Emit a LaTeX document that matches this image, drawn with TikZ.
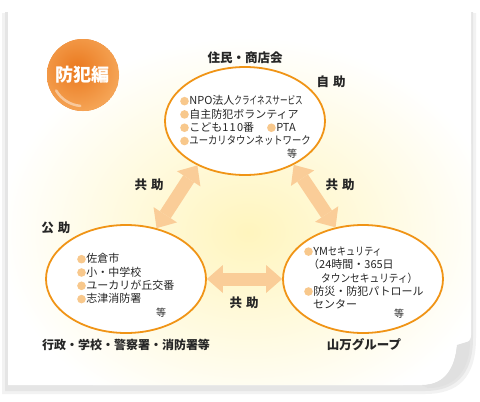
\documentclass[tikz,border=0pt]{standalone}
\usepackage{fontspec}
\usepackage{graphicx}
\setmainfont{Noto Sans CJK JP}
\usetikzlibrary{arrows.meta, positioning, shapes.geometric}
\definecolor{rimorange}{RGB}{240,148,22}
\definecolor{dotorange}{RGB}{248,200,140}
\definecolor{arrowpeach}{RGB}{250,205,152}
\definecolor{glowyellow}{RGB}{255,245,190}
\definecolor{ballorange}{RGB}{234,120,30}
\definecolor{balllight}{RGB}{246,168,90}
\definecolor{foldgray}{RGB}{224,224,224}
\definecolor{inkgray}{RGB}{38,38,38}

\newcommand{\dotb}{\tikz[baseline=-3.8pt]\fill[dotorange] (0,0) circle (4.3pt);\hspace{0.6pt}}
\newcommand{\squeeze}[2]{\scalebox{#1}[1]{#2}}

\begin{document}
\begin{tikzpicture}[x=1pt, y=-1pt,
    groupring/.style={ellipse, draw=rimorange, line width=1.8pt, fill=white,
        minimum width=160pt, minimum height=108pt, inner sep=0pt},
    itemlist/.style={font=\fontsize{11}{13.3}\selectfont, align=left, text=inkgray,
        inner sep=0pt, anchor=north west},
    etcmark/.style={font=\fontsize{10}{12}\selectfont, text=inkgray, inner sep=0pt},
    tagline/.style={font=\bfseries\fontsize{12.5}{14}\selectfont, text=inkgray, inner sep=0pt},
    bothway/.style={{Triangle[width=28pt, length=16pt, line width=0pt]}-{Triangle[width=28pt, length=16pt, line width=0pt]},
        line width=13pt, draw=arrowpeach}]
    \useasboundingbox (0,0) rectangle (480,402);

    % Card shadow
    \fill[gray!10] (2,13) -- (476,13) -- (476,338) .. controls (476,378) and (458,394) .. (425,394) -- (2,394) -- cycle;
    \fill[gray!20] (5,12) -- (473,12) -- (473,338) .. controls (473,375) and (455,391) .. (425,391) -- (5,391) -- cycle;

    % Card
    \fill[white] (8,10) -- (471,10) -- (471,335) .. controls (471,342) and (465,345) .. (457,345)
        .. controls (455,368) and (445,385) .. (422,385) -- (8,385) -- cycle;

    % Glow
    \begin{scope}
        \clip (8,10) -- (471,10) -- (471,335) .. controls (471,342) and (465,345) .. (457,345)
            .. controls (455,368) and (445,385) .. (422,385) -- (8,385) -- cycle;
        \shade[inner color=glowyellow, outer color=white] (248,232) ellipse (250 and 195);
    \end{scope}

    % Page curl
    \fill[foldgray] (457,345) -- (470,341) .. controls (470,370) and (455,388) .. (428,388) -- (422,385)
        .. controls (445,385) and (455,368) .. (457,345) -- cycle;

    % Badge
    \begin{scope}
        \clip (83,75) circle (36);
        \fill[ballorange] (83,75) circle (36);
        \shade[inner color=ballorange, outer color=balllight] (77,69) circle (46);
    \end{scope}
    \draw[white, opacity=0.45, line width=2.5pt, line cap=round] (83,75) ++(150:31) arc (150:95:31);
    \node[font=\bfseries\fontsize{18}{20}\selectfont, text=white] (badge) at (83,75) {防犯編};

    % Groups
    \node[groupring] (residents) at (245,121) {};
    \node[groupring] (public) at (126,279) {};
    \node[groupring] (yamaman) at (363,279) {};

    % Mutual help arrows
    \draw[bothway] (public.59) -- (residents.223);
    \draw[bothway] (residents.318) -- (yamaman.118);
    \draw[bothway] (public.0) -- (yamaman.180);

    % Labels
    \node[tagline] (residentslabel) at (245,58) {住民・商店会};
    \node[tagline] (selfhelp) at (331,82) {自\hspace{4pt}助};
    \node[tagline] (mutualleft) at (149,185) {共\hspace{4pt}助};
    \node[tagline] (mutualright) at (340,185) {共\hspace{4pt}助};
    \node[tagline] (mutualbottom) at (244,303) {共\hspace{4pt}助};
    \node[tagline] (publichelp) at (56,228) {公\hspace{4pt}助};
    \node[tagline, font=\bfseries\fontsize{12}{14}\selectfont] (publiclabel) at (126,345) {行政・学校・警察署・消防署等};
    \node[tagline] (yamamanlabel) at (364,345) {山万グループ};

    % Items
    \node[itemlist] (residentsitems) at (180,95.5) {\dotb NPO法人\squeeze{0.69}{クライネスサービス}\\
        \dotb 自主防犯ボランティア\\
        \dotb こども1\kern1.2pt1\kern1.2pt0番\hspace{13pt}\dotb PTA\\
        \dotb \squeeze{0.85}{ユーカリタウンネットワーク}};
    \node[etcmark] (residentsetc) at (292,154) {等};

    \node[itemlist] (publicitems) at (77,253.5) {\dotb 佐倉市\\
        \dotb 小・中学校\\
        \dotb ユーカリが丘交番\\
        \dotb 志津消防署};
    \node[etcmark] (publicetc) at (161,313) {等};

    \node[itemlist] (yamamanitems) at (304,246.5) {\dotb YM\squeeze{0.82}{セキュリティ}\\
        \hspace*{4pt}（24時間・365日\\
        \hspace*{17pt}\squeeze{0.88}{タウンセキュリティ）}\\
        \dotb 防災・防犯パトロール\\
        \hspace*{9pt}センター};
    \node[etcmark] (yamamanetc) at (399,314) {等};
\end{tikzpicture}
\end{document}
